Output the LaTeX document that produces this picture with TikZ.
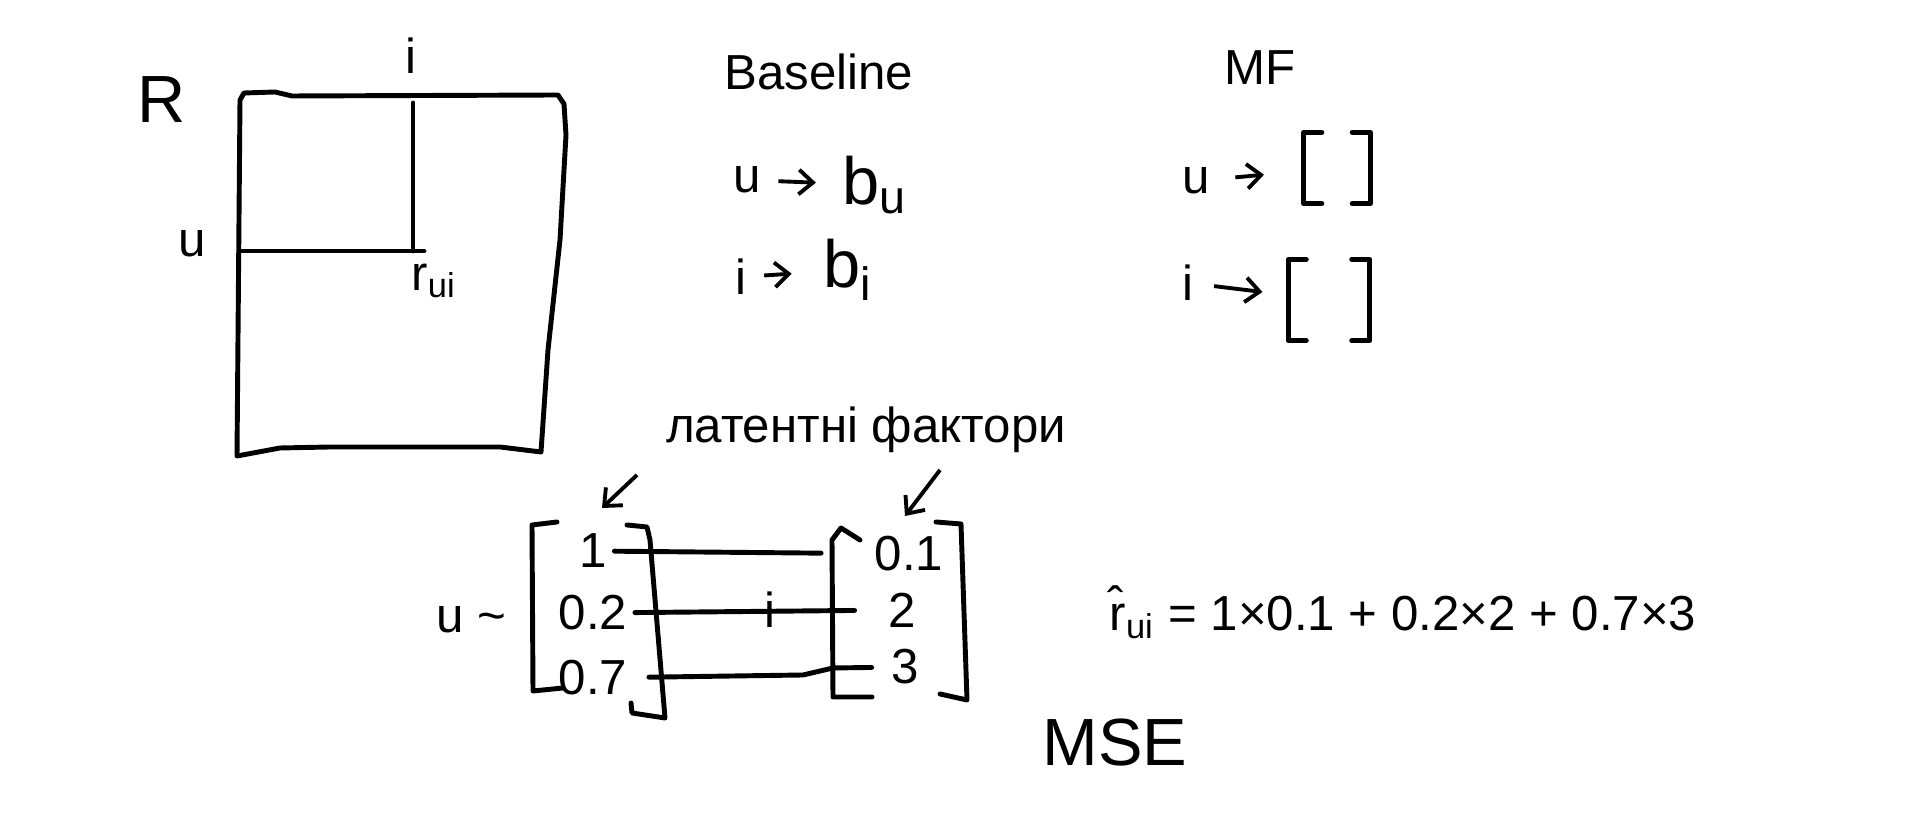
\documentclass[tikz,border=0pt]{standalone}
\usepackage{fontspec}
\setmainfont{Liberation Sans}
\usetikzlibrary{arrows.meta, calc}

\tikzset{
  hand/.style={font=\fontsize{14}{17}\selectfont, inner sep=2pt},
  big/.style={font=\fontsize{19}{22}\selectfont, inner sep=2pt},
  stroke/.style={line width=1.4pt, line cap=round, line join=round},
  tip/.style={line width=1.1pt, -{Straight Barb[length=4pt,width=7pt]}},
  bracketbox/.style={minimum width=#1, inner sep=0pt},
}

\begin{document}
\begin{tikzpicture}[x=0.1mm, y=-0.1mm]
  \useasboundingbox (0,0) rectangle (1914,823);

  % rating matrix R
  \draw[stroke] (240,100) -- (244,93) -- (275,92) -- (292,96) -- (558,95) -- (564,104)
    -- (566,135) -- (560,240) -- (548,350) -- (541,452) -- (500,447) -- (330,447)
    -- (280,448) -- (237,456) -- cycle;
  \node[big] (R) at (162,100) {R};
  \node[hand] (iR) at (411,56) {i};
  \node[hand] (uR) at (192,244) {u};
  \node[hand] (rui) at (434,281) {r\textsubscript{ui}};
  \coordinate (ucut) at (242,251);
  \coordinate (icut) at (413,103);
  \coordinate (cell) at (413,251);
  \draw[stroke] (ucut) -- ($(cell)+(11,0)$);
  \draw[stroke] (icut) -- (cell);

  % baseline
  \node[hand] (base) at (819,72) {Baseline};
  \node[hand] (bu-u) at (747,180) {u};
  \node[big] (bu) at (875,185) {b\textsubscript{u}};
  \node[hand] (bi-i) at (741,277) {i};
  \node[big] (bi) at (848,270) {b\textsubscript{i}};
  \draw[tip, shorten <=1mm, shorten >=1.9mm] (bu-u) -- (bu);
  \draw[tip, shorten <=1mm, shorten >=2.4mm] (bi-i) -- (bi);

  % matrix factorisation
  \node[hand] (mf) at (1260,68) {MF};
  \node[hand] (mf-u) at (1196,181) {u};
  \node[bracketbox=6.5mm, minimum height=7mm] (pu) at (1337,168) {};
  \node[hand] (mf-i) at (1188,283) {i};
  \node[bracketbox=8mm, minimum height=8mm] (qi) at (1329,300) {};
  \draw[tip, shorten <=1.8mm, shorten >=4mm] (mf-u) -- (pu);
  \draw[tip, shorten <=1.3mm, shorten >=2.6mm] (mf-i) -- (qi);
  \foreach \v in {pu, qi}
    \draw[stroke] ($(\v.north west)+(18,0)$) -- (\v.north west) -- (\v.south west) -- ($(\v.south west)+(18,0)$)
      ($(\v.north east)+(-18,0)$) -- (\v.north east) -- (\v.south east) -- ($(\v.south east)+(-18,0)$);

  % latent factors
  \node[hand] (lat) at (866,430) {латентні фактори};
  \coordinate (lat-p) at (637,475);
  \coordinate (p-top) at (602,508);
  \coordinate (lat-q) at (940,470);
  \coordinate (q-top) at (905,516);
  \draw[tip] (lat-p) -- (p-top);
  \draw[tip] (lat-q) -- (q-top);

  \node[hand] (u-vec) at (471,620) {u \textasciitilde};
  \foreach \val/\y [count=\k] in {1/551, 0.2/613, 0.7/678}
    \node[hand] (p\k) at (593,\y) {\val};
  \foreach \val/\x/\y [count=\k] in {0.1/909/554, 2/902/610, 3/905/667}
    \node[hand] (q\k) at (\x,\y) {\val};
  \draw[stroke] (557,522) -- (532,525) -- (533,691) -- (563,688);
  \draw[stroke] (627,525) -- (647,527) -- (650,540) -- (665,718) -- (632,713) -- (631,703);
  \draw[stroke] (872,697) -- (833,697) -- (832,540) -- (841,528) -- (860,540);
  \draw[stroke] (936,522) -- (961,524) -- (967,700) -- (940,694);
  \draw[stroke, shorten >=4.6mm] (p1) -- (q1);
  \draw[stroke, shorten >=2.6mm] (p2) -- (q2);
  \draw[stroke, shorten <=1.4mm, shorten >=1.2mm] (p3) -- (803,675) -- (833,668) -- (q3);
  \node[hand] (mid-i) at (770,610) {i};

  % prediction
  \node[hand] (pred) at (1403,612) {\^{r}\textsubscript{ui} = 1×0.1 + 0.2×2 + 0.7×3};
  \node[big] (mse) at (1115,743) {MSE};
\end{tikzpicture}
\end{document}
